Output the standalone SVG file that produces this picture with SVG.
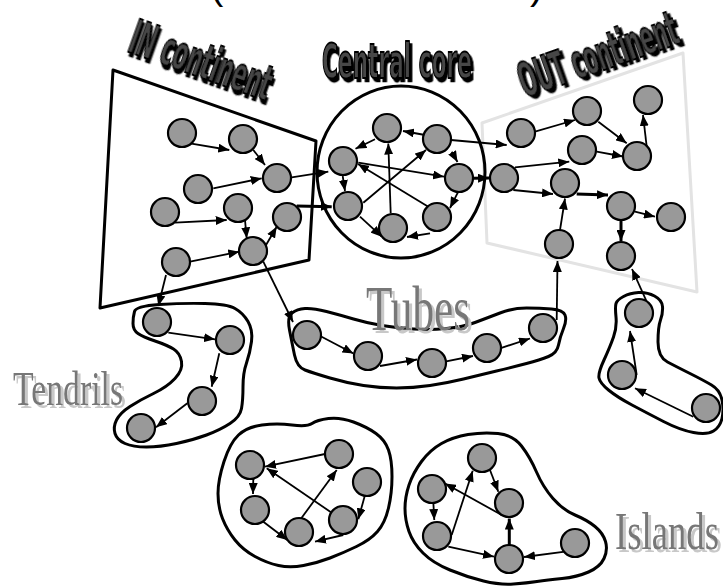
<svg xmlns="http://www.w3.org/2000/svg" width="723" height="587" viewBox="0 0 723 587">
<style>
.n{fill:#999999;stroke:#000;stroke-width:2.2}
.e{stroke:#000;stroke-width:1.8;fill:none;marker-end:url(#ah)}
.et{stroke:#000;stroke-width:3;fill:none;marker-end:url(#ah)}
.blob{fill:none;stroke:#000;stroke-width:3;stroke-linejoin:round}
.hd{font-family:'Liberation Sans Narrow','DejaVu Sans Condensed','Liberation Sans',sans-serif;font-weight:bold;font-size:37px;fill:#474747;stroke:#000;stroke-width:1.4;filter:url(#hs)}
.sf{font-family:'Liberation Serif','DejaVu Serif',serif;fill:#777777;filter:url(#ss)}
.par{font-family:'Liberation Sans',sans-serif;font-size:40px;fill:#000}
</style>
<defs>
<marker id="ah" markerUnits="userSpaceOnUse" markerWidth="11" markerHeight="9" refX="11" refY="4.5" orient="auto">
<path d="M0,0 L11,4.5 L0,9 Z" fill="#000"/>
</marker>
<filter id="hs" x="-10%" y="-20%" width="130%" height="150%">
<feDropShadow dx="2.5" dy="2.5" stdDeviation="0" flood-color="#000"/>
</filter>
<filter id="ss" x="-10%" y="-20%" width="130%" height="150%">
<feDropShadow dx="3" dy="3" stdDeviation="0.3" flood-color="#c8c8c8"/>
</filter>
</defs>
<rect width="723" height="587" fill="#fff"/>

<g id="parens">
<text class="par" x="210" y="-1">(</text>
<text class="par" x="530" y="-1">)</text>
</g>

<g id="containers">
<polygon id="in-continent" points="113,70 316,141 309,260 100,308" fill="none" stroke="#000" stroke-width="3" stroke-linejoin="round"/>
<polygon id="out-continent" points="482,123 683,53 697,292 487,243" fill="none" stroke="#e3e3e3" stroke-width="3" stroke-linejoin="round"/>
<ellipse id="central-core" cx="401" cy="172" rx="84" ry="86" fill="none" stroke="#000" stroke-width="3"/>
<path id="tendrils-blob" class="blob" d="M134.5,311.5 Q136,306 159.5,304.5 Q183,303 205,303.5 Q227,304 235,308.5 Q243,313 248,321.5 Q253,330 251.5,341.5 Q250,353 246.5,363 Q243,373 243,386.5 Q243,400 241.5,408.5 Q240,417 230,423.5 Q220,430 206.5,435 Q193,440 176.5,443.5 Q160,447 146.5,447 Q133,447 125,443.5 Q117,440 115,433.5 Q113,427 116.5,420 Q120,413 130,406.5 Q140,400 153.5,393.5 Q167,387 175,378.5 Q183,370 181.5,361.5 Q180,353 173.5,349 Q167,345 155,341 Q143,337 138,333.5 Q133,330 133,323.5 Q133,317 134.5,311.5 Z"/>
<path id="tubes-blob" class="blob" d="M289.5,330 Q287,317 292,313 Q297,309 305,308.5 Q313,308 326.5,311.5 Q340,315 353.5,319 Q367,323 382,325.5 Q397,328 413.5,329 Q430,330 446.5,328.5 Q463,327 475,322.5 Q487,318 500,313 Q513,308 526.5,308 Q540,308 551.5,309 Q563,310 565,315 Q567,320 563.5,328.5 Q560,337 558.5,345 Q557,353 548.5,356.5 Q540,360 526.5,363.5 Q513,367 496.5,371 Q480,375 463.5,379 Q447,383 430,385.5 Q413,388 396.5,388 Q380,388 363.5,385.5 Q347,383 330,378 Q313,373 305,370 Q297,367 294.5,355 Q292,343 289.5,330 Z"/>
<path id="sock-blob" class="blob" d="M623.5,296.5 Q630,293 638.5,292.5 Q647,292 654.5,296 Q662,300 662.5,306.5 Q663,313 660.5,320 Q658,327 658,342 Q658,357 667.5,362 Q677,367 690,373.5 Q703,380 711.5,385 Q720,390 722,400 Q724,410 722,418.5 Q720,427 713.5,431 Q707,435 693.5,432.5 Q680,430 663.5,421.5 Q647,413 632,405 Q617,397 608.5,390 Q600,383 599,378 Q598,373 604,360 Q610,347 613.5,337 Q617,327 616,317 Q615,307 616,303.5 Q617,300 623.5,296.5 Z"/>
<path id="island1-blob" class="blob" d="M218,493.5 Q218,480 224,461.5 Q230,443 238.5,435 Q247,427 262,425 Q277,423 292,425 Q307,427 312,423.5 Q317,420 328.5,418.5 Q340,417 353.5,422 Q367,427 376,433.5 Q385,440 388.5,450 Q392,460 392,476.5 Q392,493 388.5,508 Q385,523 377.5,531.5 Q370,540 356.5,546.5 Q343,553 330,558 Q317,563 303.5,565.5 Q290,568 278.5,565.5 Q267,563 255,556.5 Q243,550 235,540 Q227,530 222.5,518.5 Q218,507 218,493.5 Z"/>
<path id="island2-blob" class="blob" d="M405,508.5 Q405,497 409,485 Q413,473 421.5,461.5 Q430,450 441.5,443.5 Q453,437 468,434.5 Q483,432 498,433.5 Q513,435 521.5,446 Q530,457 536.5,472 Q543,487 553,498.5 Q563,510 575,515 Q587,520 595,526.5 Q603,533 605.5,541.5 Q608,550 604,558.5 Q600,567 588.5,572 Q577,577 562,578.5 Q547,580 537,581.5 Q527,583 513.5,584 Q500,585 483.5,581 Q467,577 450,570 Q433,563 423,553 Q413,543 409,531.5 Q405,520 405,508.5 Z"/>
</g>

<g id="labels">
<text class="hd" transform="translate(126,51) rotate(19.6) scale(1,1.3)" textLength="148" lengthAdjust="spacingAndGlyphs">IN continent</text>
<text class="hd" transform="translate(322,78) scale(1,1.3)" textLength="150" lengthAdjust="spacingAndGlyphs">Central core</text>
<text class="hd" transform="translate(525,98) rotate(-19.5) scale(1,1.3)" textLength="166" lengthAdjust="spacingAndGlyphs">OUT continent</text>
<text class="sf" x="366" y="330" font-size="64" textLength="104" lengthAdjust="spacingAndGlyphs">Tubes</text>
<text class="sf" x="13" y="405" font-size="49" textLength="110" lengthAdjust="spacingAndGlyphs">Tendrils</text>
<text class="sf" x="615" y="549" font-size="53" textLength="104" lengthAdjust="spacingAndGlyphs">Islands</text>
</g>

<g id="connectors">
<line class="e" x1="190" y1="143.3" x2="229.3" y2="150"/>
<line class="e" x1="253.3" y1="150" x2="265" y2="165"/>
<line class="e" x1="213.3" y1="188.3" x2="261.7" y2="178.3"/>
<line class="e" x1="175" y1="222.7" x2="226.7" y2="220"/>
<line class="e" x1="245" y1="220" x2="246.7" y2="238.3"/>
<line class="e" x1="190" y1="261.7" x2="239.3" y2="251.7"/>
<line class="e" x1="265" y1="246.7" x2="276.7" y2="226.7"/>
<line class="e" x1="291.7" y1="177.3" x2="328.3" y2="171.7"/>
<line class="et" x1="296.7" y1="206" x2="331.7" y2="206.7"/>
<line class="e" x1="166" y1="275" x2="158.3" y2="306"/>
<line class="e" x1="263.3" y1="261.7" x2="293" y2="322"/>

<line class="e" x1="425" y1="135" x2="403" y2="131"/>
<line class="e" x1="375" y1="139.3" x2="355.5" y2="148.8"/>
<line class="e" x1="451.7" y1="151.7" x2="457.5" y2="162"/>
<line class="e" x1="358.3" y1="162.7" x2="444" y2="176.7"/>
<line class="e" x1="428.3" y1="206.7" x2="358" y2="164"/>
<line class="e" x1="342.7" y1="176" x2="345" y2="191"/>
<line class="e" x1="363.3" y1="202.7" x2="426" y2="150"/>
<line class="e" x1="390.7" y1="213.3" x2="388.3" y2="143.5"/>
<line class="e" x1="360" y1="216.7" x2="381.7" y2="236.7"/>
<line class="e" x1="458.3" y1="191.7" x2="450" y2="208"/>
<line class="e" x1="430" y1="233.3" x2="407" y2="237"/>
<line class="e" x1="451" y1="140" x2="506.7" y2="145"/>
<line class="et" x1="473.3" y1="178.3" x2="489" y2="178"/>

<line class="e" x1="535" y1="131.7" x2="575" y2="120"/>
<line class="e" x1="598.3" y1="121.7" x2="626.7" y2="143.3"/>
<line class="e" x1="596.7" y1="151.7" x2="623" y2="156.5"/>
<line class="e" x1="646.7" y1="146.7" x2="643" y2="115"/>
<line class="e" x1="515" y1="167.3" x2="569.3" y2="161.7"/>
<line class="e" x1="513.3" y1="190" x2="553" y2="194"/>
<line class="et" x1="576.7" y1="194" x2="608" y2="195"/>
<line class="e" x1="635" y1="211.7" x2="655" y2="216.7"/>
<line class="et" x1="621" y1="220" x2="621" y2="241"/>
<line class="e" x1="560" y1="230" x2="565" y2="198.5"/>
<line class="e" x1="556.7" y1="320" x2="557.5" y2="261"/>
<line class="e" x1="646.7" y1="301.7" x2="632" y2="269"/>

<line class="e" x1="168.3" y1="332.7" x2="215" y2="339.3"/>
<line class="e" x1="219.3" y1="353.3" x2="211.7" y2="386.7"/>
<line class="e" x1="187.3" y1="403.3" x2="156" y2="427.3"/>

<line class="e" x1="318.3" y1="335" x2="353.5" y2="353.5"/>
<line class="e" x1="380" y1="366" x2="417" y2="359.5"/>
<line class="e" x1="445" y1="361.7" x2="473" y2="356"/>
<line class="e" x1="500" y1="348.3" x2="530" y2="338.5"/>

<line class="e" x1="636.7" y1="375" x2="630" y2="331"/>
<line class="e" x1="693.3" y1="416.7" x2="635" y2="388.3"/>

<line class="e" x1="325" y1="454" x2="265" y2="466.7"/>
<line class="e" x1="335" y1="515" x2="266.7" y2="468.3"/>
<line class="e" x1="253.3" y1="478.3" x2="253" y2="494"/>
<line class="e" x1="263.3" y1="521.7" x2="287.3" y2="540"/>
<line class="e" x1="300" y1="520" x2="336.7" y2="470"/>
<line class="e" x1="365" y1="495" x2="358.3" y2="519.3"/>
<line class="e" x1="343.3" y1="535" x2="315" y2="541.7"/>

<line class="e" x1="490" y1="470" x2="498.3" y2="491.7"/>
<line class="e" x1="501.7" y1="515" x2="445" y2="483.5"/>
<line class="e" x1="433.3" y1="501.7" x2="434.3" y2="520"/>
<line class="e" x1="451.7" y1="535" x2="472.7" y2="470.7"/>
<line class="e" x1="448.3" y1="546.7" x2="494" y2="556.7"/>
<line class="et" x1="509.3" y1="545" x2="509.3" y2="518.5"/>
<line class="e" x1="565" y1="551.7" x2="524" y2="557"/>
</g>

<g id="nodes">
<g id="A1"><circle class="n" cx="182" cy="133" r="14"/></g>
<g id="A2"><circle class="n" cx="243" cy="139" r="14"/></g>
<g id="A3"><circle class="n" cx="277" cy="178" r="14"/></g>
<g id="A4"><circle class="n" cx="198" cy="189" r="14"/></g>
<g id="A5"><circle class="n" cx="165" cy="212" r="14"/></g>
<g id="A6"><circle class="n" cx="238" cy="208" r="14"/></g>
<g id="A7"><circle class="n" cx="287" cy="217" r="14"/></g>
<g id="A8"><circle class="n" cx="253" cy="251" r="14"/></g>
<g id="A9"><circle class="n" cx="176" cy="262" r="14"/></g>

<g id="C1"><circle class="n" cx="387" cy="128" r="14"/></g>
<g id="C2"><circle class="n" cx="437" cy="139" r="14"/></g>
<g id="C3"><circle class="n" cx="343" cy="161" r="14"/></g>
<g id="C4"><circle class="n" cx="459" cy="178" r="14"/></g>
<g id="C5"><circle class="n" cx="348" cy="206" r="14"/></g>
<g id="C6"><circle class="n" cx="437" cy="217" r="14"/></g>
<g id="C7"><circle class="n" cx="393" cy="228" r="14"/></g>

<g id="B1"><circle class="n" cx="521" cy="133" r="14"/></g>
<g id="B2"><circle class="n" cx="587" cy="111" r="14"/></g>
<g id="B3"><circle class="n" cx="648" cy="100" r="14"/></g>
<g id="B4"><circle class="n" cx="582" cy="150" r="14"/></g>
<g id="B5"><circle class="n" cx="637" cy="156" r="14"/></g>
<g id="B6"><circle class="n" cx="504" cy="178" r="14"/></g>
<g id="B7"><circle class="n" cx="565" cy="183" r="14"/></g>
<g id="B8"><circle class="n" cx="621" cy="206" r="14"/></g>
<g id="B9"><circle class="n" cx="671" cy="217" r="14"/></g>
<g id="B10"><circle class="n" cx="559" cy="244" r="14"/></g>
<g id="B11"><circle class="n" cx="621" cy="256" r="14"/></g>

<g id="T1"><circle class="n" cx="157" cy="322" r="14"/></g>
<g id="T2"><circle class="n" cx="230" cy="340" r="14"/></g>
<g id="T3"><circle class="n" cx="202" cy="401" r="14"/></g>
<g id="T4"><circle class="n" cx="141" cy="428" r="14"/></g>

<g id="U1"><circle class="n" cx="307" cy="335" r="14"/></g>
<g id="U2"><circle class="n" cx="368" cy="356" r="14"/></g>
<g id="U3"><circle class="n" cx="432" cy="363" r="14"/></g>
<g id="U4"><circle class="n" cx="487" cy="348" r="14"/></g>
<g id="U5"><circle class="n" cx="543" cy="328" r="14"/></g>

<g id="S1"><circle class="n" cx="639" cy="313" r="14"/></g>
<g id="S2"><circle class="n" cx="622" cy="375" r="14"/></g>
<g id="S3"><circle class="n" cx="706" cy="408" r="14"/></g>

<g id="I1"><circle class="n" cx="250" cy="465" r="14"/></g>
<g id="I2"><circle class="n" cx="339" cy="454" r="14"/></g>
<g id="I3"><circle class="n" cx="367" cy="482" r="14"/></g>
<g id="I4"><circle class="n" cx="255" cy="510" r="14"/></g>
<g id="I5"><circle class="n" cx="343" cy="520" r="14"/></g>
<g id="I6"><circle class="n" cx="299" cy="532" r="14"/></g>

<g id="J1"><circle class="n" cx="482" cy="458" r="14"/></g>
<g id="J2"><circle class="n" cx="432" cy="489" r="14"/></g>
<g id="J3"><circle class="n" cx="509" cy="503" r="14"/></g>
<g id="J4"><circle class="n" cx="437" cy="536" r="14"/></g>
<g id="J5"><circle class="n" cx="509" cy="559" r="14"/></g>
<g id="J6"><circle class="n" cx="575" cy="543" r="14"/></g>
</g>
</svg>
